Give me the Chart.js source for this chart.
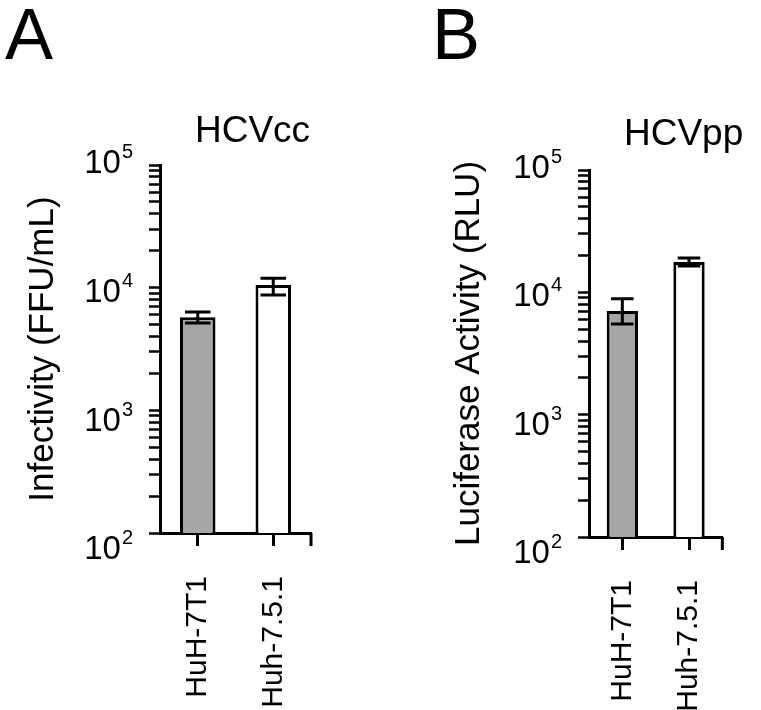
<!DOCTYPE html>
<html>
<head>
<meta charset="utf-8">
<script src="https://cdn.jsdelivr.net/npm/chart.js@4"></script>
<style>
  html, body { margin: 0; padding: 0; background: #fff; }
  #wrap { position: relative; width: 761px; height: 710px; }
  canvas { position: absolute; top: 0; }
</style>
</head>
<body>
<div id="wrap">
  <canvas id="chartA" width="380" height="710" style="left:0"></canvas>
  <canvas id="chartB" width="381" height="710" style="left:380px"></canvas>
</div>
<script>
const cellLines = ['HuH-7T1', 'Huh-7.5.1'];
const barFills = ['#a6a6a6', '#ffffff'];

// panel A: HCVcc infectivity (FFU/mL)
const hcvccMean = [5750, 10500];
const hcvccLow = [5150, 8700];
const hcvccHigh = [6330, 11950];

// panel B: HCVpp luciferase activity (RLU)
const hcvppMean = [7050, 17700];
const hcvppLow = [5500, 16450];
const hcvppHigh = [8850, 19100];

// log axis: decades 10^2 .. 10^5 with 1..9 minor ticks
const decadeExps = [2, 3, 4, 5];
const minorSteps = [1, 2, 3, 4, 5, 6, 7, 8, 9];

const FONT = "'Liberation Sans', Arial, sans-serif";

const yTickValues = [];
decadeExps.slice(0, -1).forEach(e => {
    minorSteps.forEach(m => yTickValues.push(m * Math.pow(10, e)));
});
yTickValues.push(Math.pow(10, decadeExps[decadeExps.length - 1]));

const errorBarPlugin = {
    id: 'errorBars',
    afterDatasetsDraw(chart, args, o) {
        const ctx = chart.ctx;
        const y = chart.scales.y;
        const meta = chart.getDatasetMeta(0);
        ctx.save();
        ctx.strokeStyle = '#000';
        ctx.lineWidth = 3;
        meta.data.forEach((bar, i) => {
            const top = y.getPixelForValue(o.high[i]);
            const bot = y.getPixelForValue(o.low[i]);
            const half = bar.width * 0.36;
            ctx.beginPath();
            ctx.moveTo(bar.x, top);
            ctx.lineTo(bar.x, bot);
            ctx.moveTo(bar.x - half, top);
            ctx.lineTo(bar.x + half, top);
            ctx.moveTo(bar.x - half, bot);
            ctx.lineTo(bar.x + half, bot);
            ctx.stroke();
        });
        ctx.restore();
    }
};

const panelPlugin = {
    id: 'panel',
    afterDraw(chart, args, o) {
        const ctx = chart.ctx;
        const y = chart.scales.y;
        const area = chart.chartArea;
        ctx.save();
        ctx.fillStyle = '#000';
        ctx.textBaseline = 'alphabetic';
        ctx.textAlign = 'left';
        ctx.font = `72px ${FONT}`;
        ctx.fillText(o.letter, o.letterX, 59);
        ctx.font = `37px ${FONT}`;
        ctx.fillText(o.title, o.titleX, o.titleY);

        // decade labels written as 10 with a raised exponent
        ctx.textAlign = 'right';
        decadeExps.forEach(e => {
            const py = y.getPixelForValue(Math.pow(10, e));
            const mid = py - 4 + 0.05 * (py - area.top);
            const right = area.left - 27;
            ctx.font = `20px ${FONT}`;
            const supW = ctx.measureText(String(e)).width;
            ctx.fillText(String(e), right, mid - 3);
            ctx.font = `33px ${FONT}`;
            ctx.fillText('10', right - supW - 1, mid + 12);
        });

        // closing tick at the right end of the x axis
        ctx.strokeStyle = '#000';
        ctx.lineWidth = 3;
        ctx.beginPath();
        ctx.moveTo(area.right, area.bottom);
        ctx.lineTo(area.right, area.bottom + 13);
        ctx.stroke();
        ctx.restore();
    }
};

function makeChart(id, means, low, high, yTitle, opts) {
    return new Chart(document.getElementById(id), {
        type: 'bar',
        data: {
            labels: cellLines,
            datasets: [{
                data: means,
                backgroundColor: barFills,
                borderColor: '#000',
                borderWidth: 3,
                barPercentage: 0.47,
                categoryPercentage: 1
            }]
        },
        options: {
            responsive: false,
            animation: false,
            layout: { padding: { left: 0, top: opts.top, right: opts.right, bottom: 0 } },
            plugins: {
                legend: { display: false },
                tooltip: { enabled: false },
                errorBars: { low, high },
                panel: opts.panel
            },
            scales: {
                x: {
                    z: 1,
                    offset: true,
                    afterFit: s => { s.height = opts.xHeight; },
                    border: { color: '#000', width: 3 },
                    grid: { offset: false, drawOnChartArea: false, drawTicks: true, tickLength: 13, tickWidth: 3, tickColor: '#000' },
                    ticks: { color: '#000', font: { family: FONT, size: 30 }, minRotation: 90, maxRotation: 90, padding: 30, autoSkip: false }
                },
                y: {
                    z: 1,
                    type: 'logarithmic',
                    min: 100,
                    max: 100000,
                    afterBuildTicks: s => { s.ticks = yTickValues.map(v => ({ value: v })); },
                    afterFit: s => { s.width = opts.yWidth; },
                    border: { color: '#000', width: 3 },
                    grid: { drawOnChartArea: false, drawTicks: true, tickLength: 11, tickWidth: 2.5, tickColor: '#000' },
                    ticks: { display: false },
                    title: {
                        display: true,
                        text: yTitle,
                        color: '#000',
                        font: { family: FONT, size: 35, lineHeight: 1 },
                        padding: { top: opts.yTitlePad, bottom: 0 }
                    }
                }
            }
        },
        plugins: [errorBarPlugin, panelPlugin]
    });
}

makeChart('chartA', hcvccMean, hcvccLow, hcvccHigh, 'Infectivity (FFU/mL)', {
    top: 165, right: 69, xHeight: 177, yWidth: 160, yTitlePad: 26,
    panel: { letter: 'A', letterX: 5, title: 'HCVcc', titleX: 195, titleY: 142 }
});

makeChart('chartB', hcvppMean, hcvppLow, hcvppHigh, 'Luciferase Activity (RLU)', {
    top: 170, right: 24, xHeight: 173, yWidth: 209, yTitlePad: 72,
    panel: { letter: 'B', letterX: 52, title: 'HCVpp', titleX: 244, titleY: 145 }
});
</script>
</body>
</html>
